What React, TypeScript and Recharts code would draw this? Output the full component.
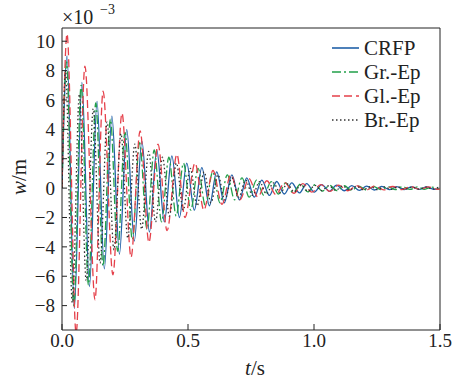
import { LineChart, Line, XAxis, YAxis, ReferenceLine } from "recharts";

// extremes (t in s, w in 1e-3 m)
const crfpT = [0, 0.02, 0.049, 0.079, 0.109, 0.139, 0.168, 0.198, 0.228, 0.257, 0.287, 0.317, 0.347, 0.376, 0.406, 0.436, 0.466, 0.495, 0.525, 0.555, 0.585, 0.614, 0.644, 0.674, 0.704, 0.733, 0.763, 0.793, 0.823, 0.852, 0.882, 0.912, 0.942, 0.971, 1.001, 1.031, 1.061, 1.09, 1.12, 1.15, 1.18, 1.209, 1.239, 1.269, 1.299, 1.328, 1.358, 1.388, 1.418, 1.447, 1.477, 1.5];
const crfpW = [0, 9.0, -8.2, 7.2, -6.7, 5.9, -5.5, 4.9, -4.5, 4.0, -3.6, 3.2, -3.0, 2.6, -2.3, 2.2, -2.0, 1.7, -1.5, 1.4, -1.2, 1.1, -1.0, 0.9, -0.8, 0.7, -0.62, 0.55, -0.5, 0.45, -0.4, 0.36, -0.33, 0.3, -0.27, 0.24, -0.22, 0.2, -0.18, 0.17, -0.15, 0.14, -0.13, 0.12, -0.11, 0.1, -0.1, 0.09, -0.09, 0.08, -0.08, -0.02];

const grT = [0, 0.018, 0.047, 0.076, 0.105, 0.134, 0.163, 0.192, 0.221, 0.25, 0.279, 0.308, 0.337, 0.366, 0.395, 0.424, 0.453, 0.482, 0.511, 0.54, 0.569, 0.598, 0.627, 0.656, 0.685, 0.714, 0.743, 0.772, 0.801, 0.83, 0.859, 0.888, 0.917, 0.946, 0.975, 1.004, 1.033, 1.062, 1.091, 1.12, 1.149, 1.178, 1.207, 1.236, 1.265, 1.294, 1.323, 1.352, 1.381, 1.41, 1.439, 1.468, 1.497, 1.5];
const grW = [0, 8.6, -8.0, 7.0, -6.6, 5.8, -5.3, 4.7, -4.3, 3.8, -3.5, 3.1, -2.8, 2.6, -2.3, 2.1, -1.9, 1.7, -1.5, 1.35, -1.2, 1.1, -1.0, 0.9, -0.8, 0.7, -0.62, 0.55, -0.5, 0.44, -0.4, 0.35, -0.32, 0.28, -0.26, 0.23, -0.21, 0.19, -0.17, 0.16, -0.15, 0.14, -0.13, 0.12, -0.11, 0.1, -0.1, 0.09, -0.09, 0.08, -0.08, 0.07, -0.07, -0.06];

const glT = [0, 0.02, 0.056, 0.091, 0.131, 0.163, 0.202, 0.238, 0.274, 0.31, 0.345, 0.381, 0.417, 0.456, 0.488, 0.528, 0.563, 0.599, 0.635, 0.67, 0.706, 0.742, 0.777, 0.813, 0.849, 0.884, 0.92, 0.956, 0.991, 1.027, 1.063, 1.098, 1.134, 1.17, 1.205, 1.241, 1.277, 1.312, 1.348, 1.384, 1.419, 1.455, 1.491, 1.5];
const glW = [0, 10.5, -9.9, 8.3, -7.6, 6.6, -5.9, 5.1, -4.7, 3.9, -3.7, 3.0, -2.9, 2.3, -2.0, 1.7, -1.5, 1.2, -1.1, 0.9, -0.8, 0.65, -0.6, 0.5, -0.45, 0.38, -0.35, 0.3, -0.28, 0.24, -0.22, 0.2, -0.18, 0.16, -0.15, 0.13, -0.12, 0.11, -0.1, 0.1, -0.09, 0.08, -0.08, -0.05];

const brT = [0, 0.014, 0.041, 0.069, 0.096, 0.124, 0.151, 0.179, 0.206, 0.234, 0.261, 0.289, 0.316, 0.344, 0.371, 0.399, 0.426, 0.454, 0.481, 0.509, 0.536, 0.564, 0.591, 0.619, 0.646, 0.674, 0.701, 0.729, 0.756, 0.784, 0.811, 0.839, 0.866, 0.894, 0.921, 0.949, 0.976, 1.004, 1.031, 1.059, 1.086, 1.114, 1.141, 1.169, 1.196, 1.224, 1.251, 1.279, 1.306, 1.334, 1.361, 1.389, 1.416, 1.444, 1.471, 1.499, 1.5];
const brW = [0, 8.0, -7.8, 6.4, -6.3, 5.4, -5.1, 4.5, -4.2, 3.7, -3.4, 3.0, -2.8, 2.5, -2.3, 2.1, -1.9, 1.7, -1.5, 1.35, -1.2, 1.1, -1.0, 0.9, -0.8, 0.7, -0.62, 0.55, -0.5, 0.44, -0.4, 0.35, -0.32, 0.28, -0.26, 0.23, -0.21, 0.19, -0.17, 0.16, -0.15, 0.14, -0.13, 0.12, -0.11, 0.1, -0.1, 0.09, -0.09, 0.08, -0.08, 0.07, -0.07, 0.07, -0.06, 0.06, 0.06];

const xTicks = [0, 0.5, 1.0, 1.5];
const yTicks = [-8, -6, -4, -2, 0, 2, 4, 6, 8, 10];

const rows = (t: number[], w: number[]) => t.map((x, i) => ({ t: x, w: w[i] }));

const series = [
  { name: "CRFP", data: rows(crfpT, crfpW), color: "#2060a8", dash: undefined },
  { name: "Gr.-Ep", data: rows(grT, grW), color: "#22a04a", dash: "9 3 2 3" },
  { name: "Gl.-Ep", data: rows(glT, glW), color: "#e5404a", dash: "8 4" },
  { name: "Br.-Ep", data: rows(brT, brW), color: "#333333", dash: "1.5 2.5" },
];

const FONT = "'Liberation Serif', serif";

export default function App() {
  const fmtY = (v: number) => (v < 0 ? "\u2212" + Math.abs(v) : String(v));
  return (
    <div style={{ position: "absolute", left: 0, top: 0, width: 453, height: 379, background: "#fff" }}>
      <LineChart width={453} height={379} margin={{ top: 28, right: 13, bottom: 19, left: 22 }}>
        <XAxis
          dataKey="t"
          type="number"
          domain={[0, 1.5]}
          ticks={xTicks}
          tickFormatter={(v: number) => v.toFixed(1)}
          height={30}
          tickSize={-6}
          tickMargin={10}
          stroke="#222"
          tick={{ fill: "#222", fontFamily: FONT, fontSize: 19 }}
          allowDataOverflow
        />
        <YAxis
          type="number"
          domain={[-9.66, 10.9]}
          ticks={yTicks}
          tickFormatter={fmtY}
          width={40}
          tickSize={-5}
          tickMargin={12}
          stroke="#222"
          tick={{ fill: "#222", fontFamily: FONT, fontSize: 19 }}
          allowDataOverflow
        />
        <ReferenceLine y={10.9} stroke="#222" strokeWidth={1} />
        <ReferenceLine x={1.5} stroke="#222" strokeWidth={1} />
        {series.map((s) => (
          <Line
            key={s.name}
            data={s.data}
            dataKey="w"
            name={s.name}
            type="monotone"
            stroke={s.color}
            strokeWidth={1.3}
            strokeDasharray={s.dash}
            dot={false}
            isAnimationActive={false}
          />
        ))}
      </LineChart>
      <svg width={453} height={379} style={{ position: "absolute", left: 0, top: 0, pointerEvents: "none" }}>
        {series.map((s, i) => (
          <g key={s.name}>
            <line x1={332} x2={359} y1={48 + i * 24} y2={48 + i * 24} stroke={s.color} strokeWidth={1.6} strokeDasharray={s.dash} />
            <text x={364} y={55 + i * 24} fontFamily={FONT} fontSize={21} fill="#222">{s.name}</text>
          </g>
        ))}
        <text x={62} y={24} fontFamily={FONT} fontSize={20} fill="#222">
          ×10
        </text>
        <text x={100} y={14} fontFamily={FONT} fontSize={14} fill="#222">
          −3
        </text>
        <text x={26} y={177} transform="rotate(-90 26 177)" textAnchor="middle" fontFamily={FONT} fontSize={21} fill="#222">
          <tspan fontStyle="italic">w</tspan>/m
        </text>
        <text x={255} y={375} textAnchor="middle" fontFamily={FONT} fontSize={21} fill="#222">
          <tspan fontStyle="italic">t</tspan>/s
        </text>
      </svg>
    </div>
  );
}
